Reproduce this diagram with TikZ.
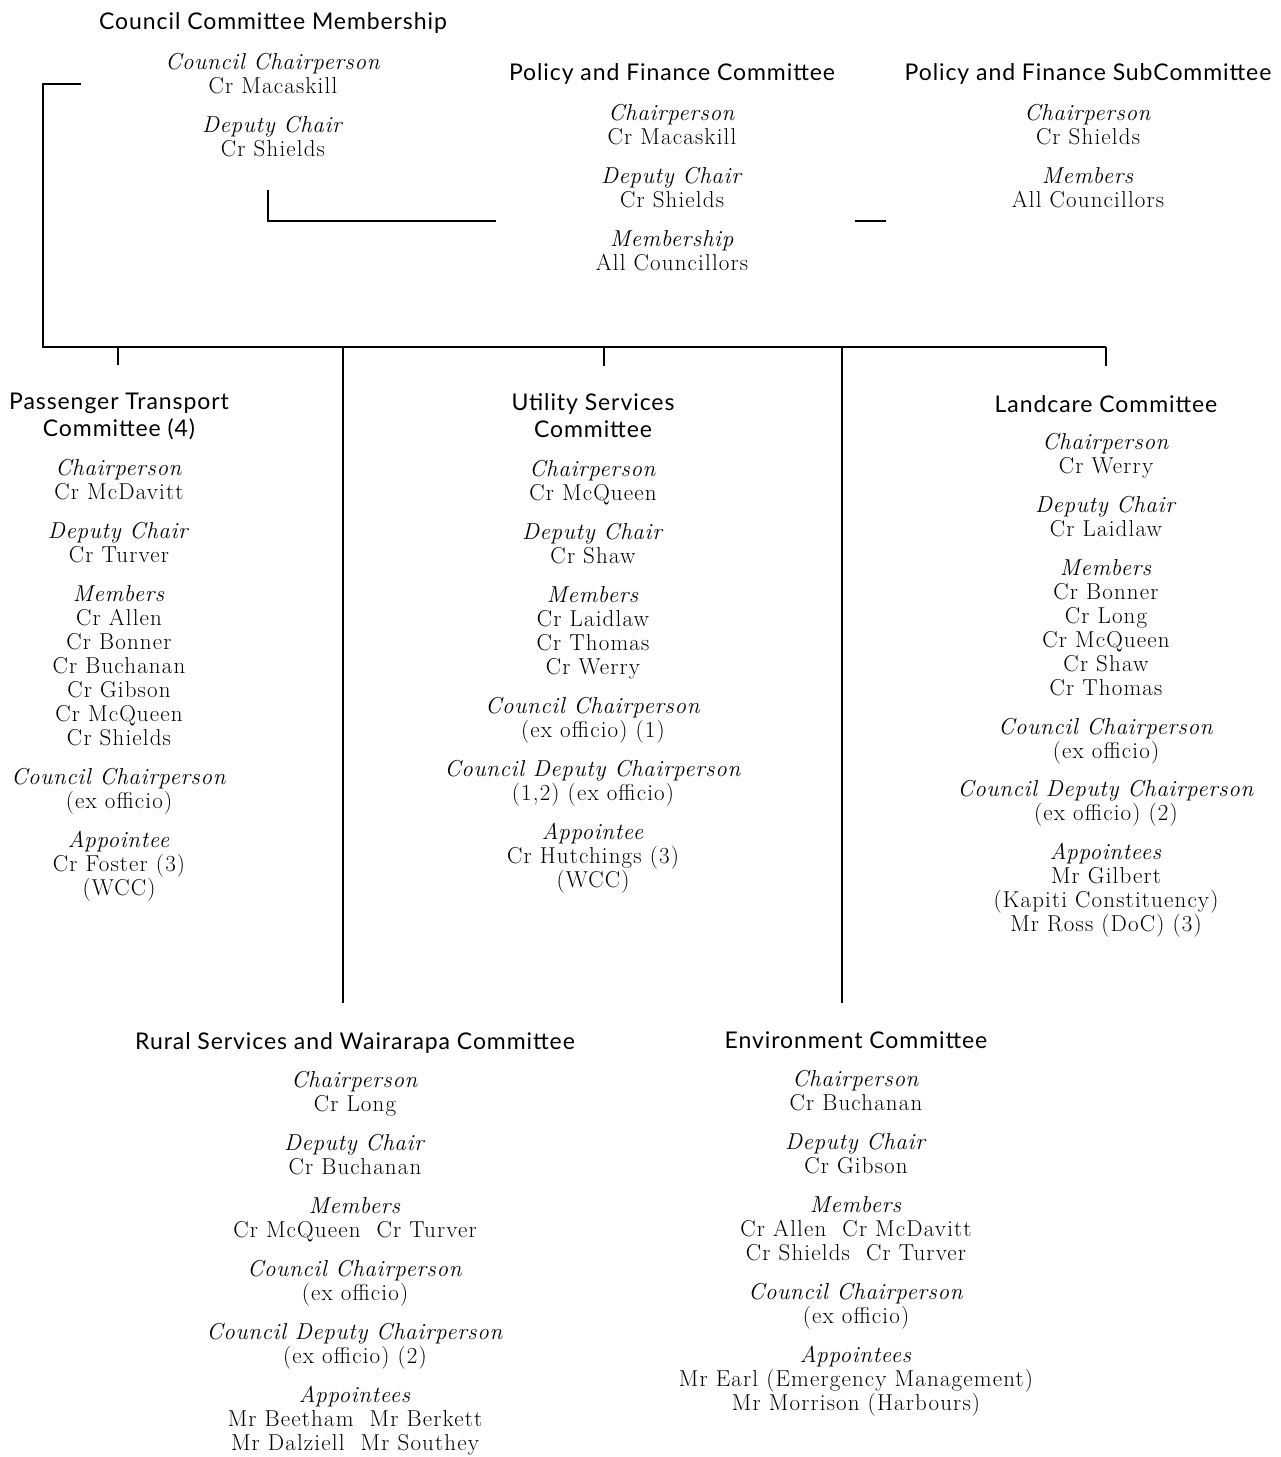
\documentclass[tikz,border=0pt]{standalone}
\usepackage{fontspec}
\setmainfont{Latin Modern Roman}[LetterSpace=5,ItalicFeatures={LetterSpace=3}]
\setsansfont{Lato}[LetterSpace=4]
\begin{document}
\begin{tikzpicture}[x=1pt,y=-1pt,
  blk/.style={anchor=north,inner sep=0pt,align=center,font=\fontsize{23}{24}\selectfont},
  ln/.style={line width=1.4pt,black},
  bus/.style={line width=1.8pt,black}]
\useasboundingbox (0,0) rectangle (1281,1457);
\newcommand{\hd}[1]{{\sffamily\fontsize{23}{27}\selectfont #1}}
\newcommand{\rl}[1]{\textit{#1}}
% top blocks
\node[blk] (ccm) at (273,12) {\hd{Council Committee Membership}\\[16pt]
  \rl{Council Chairperson}\\ Cr Macaskill\\[15pt]
  \rl{Deputy Chair}\\ Cr Shields};
\node[blk] (pfc) at (672,63) {\hd{Policy and Finance Committee}\\[16pt]
  \rl{Chairperson}\\ Cr Macaskill\\[15pt]
  \rl{Deputy Chair}\\ Cr Shields\\[15pt]
  \rl{Membership}\\ All Councillors};
\node[blk] (pfs) at (1088,63) {\hd{Policy and Finance SubCommittee}\\[16pt]
  \rl{Chairperson}\\ Cr Shields\\[15pt]
  \rl{Members}\\ All Councillors};
% middle row
\node[blk] (ptc) at (119,393) {\hd{Passenger Transport}\\[3pt]\hd{Committee (4)}\\[15pt]
  \rl{Chairperson}\\ Cr McDavitt\\[15pt]
  \rl{Deputy Chair}\\ Cr Turver\\[15pt]
  \rl{Members}\\ Cr Allen\\ Cr Bonner\\ Cr Buchanan\\ Cr Gibson\\ Cr McQueen\\ Cr Shields\\[15pt]
  \rl{Council Chairperson}\\ (ex officio)\\[15pt]
  \rl{Appointee}\\ Cr Foster (3)\\ (WCC)};
\node[blk] (usc) at (593,393) {\hd{Utility Services}\\[3pt]\hd{Committee}\\[15pt]
  \rl{Chairperson}\\ Cr McQueen\\[15pt]
  \rl{Deputy Chair}\\ Cr Shaw\\[15pt]
  \rl{Members}\\ Cr Laidlaw\\ Cr Thomas\\ Cr Werry\\[15pt]
  \rl{Council Chairperson}\\ (ex officio) (1)\\[15pt]
  \rl{Council Deputy Chairperson}\\ (1,2) (ex officio)\\[15pt]
  \rl{Appointee}\\ Cr Hutchings (3)\\ (WCC)};
\node[blk] (lcc) at (1106,395) {\hd{Landcare Committee}\\[13pt]
  \rl{Chairperson}\\ Cr Werry\\[15pt]
  \rl{Deputy Chair}\\ Cr Laidlaw\\[15pt]
  \rl{Members}\\ Cr Bonner\\ Cr Long\\ Cr McQueen\\ Cr Shaw\\ Cr Thomas\\[15pt]
  \rl{Council Chairperson}\\ (ex officio)\\[14pt]
  \rl{Council Deputy Chairperson}\\ (ex officio) (2)\\[15pt]
  \rl{Appointees}\\ Mr Gilbert\\ (Kapiti Constituency)\\ Mr Ross (DoC) (3)};
% bottom row
\node[blk] (rsw) at (355,1032) {\hd{Rural Services and Wairarapa Committee}\\[14pt]
  \rl{Chairperson}\\ Cr Long\\[15pt]
  \rl{Deputy Chair}\\ Cr Buchanan\\[15pt]
  \rl{Members}\\ Cr McQueen\ \ Cr Turver\\[15pt]
  \rl{Council Chairperson}\\ (ex officio)\\[15pt]
  \rl{Council Deputy Chairperson}\\ (ex officio) (2)\\[15pt]
  \rl{Appointees}\\ Mr Beetham\ \ Mr Berkett\\ Mr Dalziell\ \ Mr Southey};
\node[blk] (env) at (856,1032) {\hd{Environment Committee}\\[14pt]
  \rl{Chairperson}\\ Cr Buchanan\\[15pt]
  \rl{Deputy Chair}\\ Cr Gibson\\[15pt]
  \rl{Members}\\ Cr Allen\ \ Cr McDavitt\\ Cr Shields\ \ Cr Turver\\[15pt]
  \rl{Council Chairperson}\\ (ex officio)\\[15pt]
  \rl{Appointees}\\ Mr Earl (Emergency Management)\\ Mr Morrison (Harbours)};
% connector coordinates
\coordinate (tl) at (43,84);
\coordinate (tle) at (81,84);
\coordinate (bl) at (43,347);
\coordinate (br) at (1106,347);
\coordinate (ib1) at (268,190);
\coordinate (ib2) at (268,221);
\coordinate (ib3) at (496,221);
\coordinate (sh1) at (855,221);
\coordinate (sh2) at (886,221);
\coordinate (t1) at (118,347);
\coordinate (t1e) at (118,365);
\coordinate (t2) at (604,347);
\coordinate (t2e) at (604,366);
\coordinate (t3e) at (1106,366);
\coordinate (v1) at (343,347);
\coordinate (v1e) at (343,1003);
\coordinate (v2) at (842,347);
\coordinate (v2e) at (842,1003);
% connectors
\draw[bus] (tle) -- (tl) -- (bl) -- (br);
\draw[ln] (ib1) -- (ib2) -- (ib3);
\draw[ln] (sh1) -- (sh2);
\draw[ln] (t1) -- (t1e);
\draw[ln] (t2) -- (t2e);
\draw[ln] (br) -- (t3e);
\draw[ln] (v1) -- (v1e);
\draw[ln] (v2) -- (v2e);
\end{tikzpicture}
\end{document}
